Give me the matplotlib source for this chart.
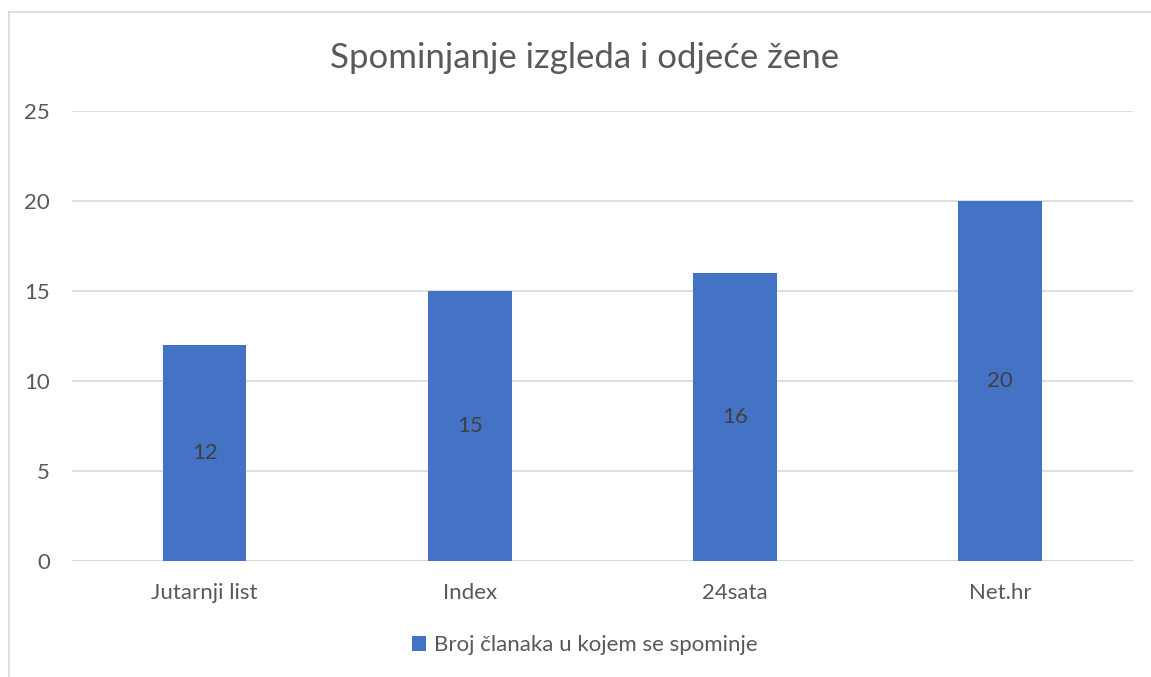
import matplotlib
matplotlib.use("Agg")
import matplotlib.pyplot as plt
from matplotlib.lines import Line2D

# podaci
portali = ["Jutarnji list", "Index", "24sata", "Net.hr"]
broj_clanaka = [12, 15, 16, 20]
y_ticks = [0, 5, 10, 15, 20, 25]

plt.rcParams['font.family'] = ['Lato', 'DejaVu Sans']
siva = '#595959'
plava = '#4472C4'

fig = plt.figure(figsize=(11.51, 6.77), dpi=100)
ax = fig.add_axes([0.0626, 0.1713, 0.9214, 0.6647])

x = list(range(len(portali)))
bars = ax.bar(x, broj_clanaka, width=0.315, color=plava, zorder=3,
              label='Broj članaka u kojem se spominje')

for b, v in zip(bars, broj_clanaka):
    ax.text(b.get_x() + b.get_width() / 2, v / 2, str(v), ha='center', va='center',
            fontsize=16, color='#404040', zorder=4)

ax.set_xlim(-0.5, len(portali) - 0.5)
ax.set_ylim(0, 25)
ax.set_yticks(y_ticks)
ax.set_xticks(x)
ax.set_xticklabels(portali)
ax.tick_params(axis='both', length=0, labelsize=16, colors=siva)
ax.tick_params(axis='y', pad=16)
ax.tick_params(axis='x', pad=16)
ax.grid(axis='y', color='#d9d9d9', linewidth=1.2, zorder=0)
for s in ax.spines.values():
    s.set_visible(False)
ax.axhline(0, color='#d9d9d9', linewidth=1.5, zorder=2)

fig.text(0.508, 0.914, 'Spominjanje izgleda i odjeće žene', ha='center', va='center',
         fontsize=25, color=siva)

leg = fig.legend(loc='center', bbox_to_anchor=(0.508, 0.047), frameon=False,
                 fontsize=16, handlelength=0.65, handleheight=0.65, handletextpad=0.35)
for t in leg.get_texts():
    t.set_color(siva)

# okvir grafikona (gornji i lijevi rub)
fig.add_artist(Line2D([9 / 1151, 1], [1 - 12 / 677, 1 - 12 / 677], color='#d9d9d9', linewidth=1.2))
fig.add_artist(Line2D([9 / 1151, 9 / 1151], [0, 1 - 12 / 677], color='#d9d9d9', linewidth=1.2))

fig.savefig('out.png', dpi=100)
